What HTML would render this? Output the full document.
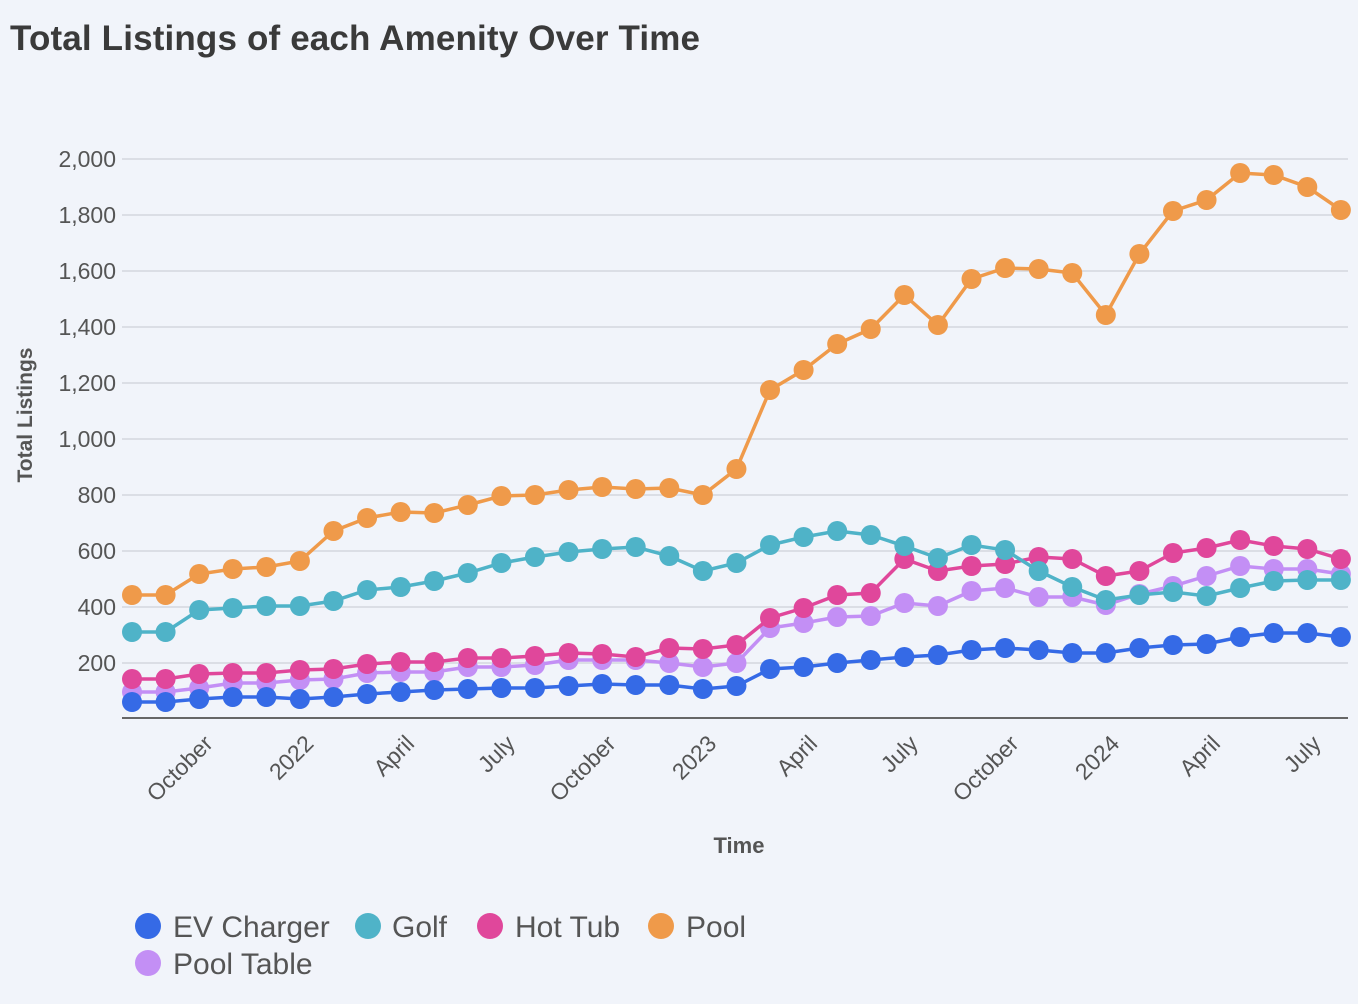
<!DOCTYPE html>
<html><head><meta charset="utf-8"><style>
body{margin:0;background:#f1f4fa;}
svg{display:block;font-family:"Liberation Sans",sans-serif;}
</style></head><body>
<svg id="c" width="1358" height="1004" xmlns="http://www.w3.org/2000/svg">
<rect width="1358" height="1004" fill="#f1f4fa"/>
<text x="10" y="50" font-size="35" font-weight="bold" fill="#3a3a3a" textLength="690">Total Listings of each Amenity Over Time</text>
<g id="grid" stroke="#d4d7de" stroke-width="1.5"></g>
<line x1="122" y1="718" x2="1348" y2="718" stroke="#666" stroke-width="2"/>
<g id="yl" font-size="23" fill="#555" text-anchor="end"></g>
<g id="xl" font-size="23" fill="#555" text-anchor="end"></g>
<text transform="translate(32,415) rotate(-90)" font-size="21" font-weight="bold" fill="#555" text-anchor="middle">Total Listings</text>
<text x="739" y="853" font-size="22" font-weight="bold" fill="#555" text-anchor="middle">Time</text>
<g id="series"></g>
<g font-size="30" fill="#555">
<circle cx="148" cy="926" r="13" fill="#356ae6"/><text x="173" y="937">EV Charger</text>
<circle cx="368" cy="926" r="13" fill="#4fb3c8"/><text x="392" y="937">Golf</text>
<circle cx="490" cy="926" r="13" fill="#e0479b"/><text x="515" y="937">Hot Tub</text>
<circle cx="661" cy="926" r="13" fill="#ef9a4a"/><text x="686" y="937">Pool</text>
<circle cx="148" cy="963" r="13" fill="#c38ff5"/><text x="173" y="974">Pool Table</text>
</g>
</svg>
<script>
var NS="http://www.w3.org/2000/svg";
function el(p,t,a,txt){var e=document.createElementNS(NS,t);for(var k in a)e.setAttribute(k,a[k]);if(txt)e.textContent=txt;document.getElementById(p).appendChild(e);return e;}
for(var v=200;v<=2000;v+=200){var y=719-v*0.28;el("grid","line",{x1:122,y1:y,x2:1348,y2:y});el("yl","text",{x:116,y:y+8},v.toLocaleString("en-US"));}
var xs=[];for(var i=0;i<37;i++)xs.push(132+i*33.58);
var lab=[[2,"October"],[5,"2022"],[8,"April"],[11,"July"],[14,"October"],[17,"2023"],[20,"April"],[23,"July"],[26,"October"],[29,"2024"],[32,"April"],[35,"July"]];
lab.forEach(function(l){var x=xs[l[0]]+15,y=745;el("xl","text",{x:x,y:y,transform:"rotate(-45 "+x+" "+y+")"},l[1]);});
var S=[
["#c38ff5",[692,692,688,683,683,680,679,673,672,672,667,667,665,660,660,660,663,667,663,628,623,617,616,603,606,591,588,597,597,605,594,586,576,566,569,569,574]],
["#356ae6",[702,702,699,697,697,699,697,694,692,690,689,688,688,686,684,685,685,689,686,669,667,663,660,657,655,650,648,650,653,653,648,645,644,637,633,633,637]],
["#e0479b",[679,679,674,673,673,670,669,664,662,662,658,658,656,653,654,657,648,649,645,618,608,595,593,559,571,566,564,557,559,576,571,553,548,540,546,549,559]],
["#4fb3c8",[632,632,610,608,606,606,601,590,587,581,573,563,557,552,549,547,556,571,563,545,537,531,535,546,558,545,550,571,587,600,595,592,596,588,581,580,580]],
["#ef9a4a",[595,595,574,569,567,561,531,518,512,513,505,496,495,490,487,489,488,495,469,390,370,344,329,295,325,279,268,269,273,315,254,211,200,173,175,187,210]]];
S.forEach(function(s){var pts=s[1].map(function(y,i){return xs[i]+","+y}).join(" ");
el("series","polyline",{points:pts,fill:"none",stroke:s[0],"stroke-width":3.5});
s[1].forEach(function(y,i){el("series","circle",{cx:xs[i],cy:y,r:10,fill:s[0]});});});
</script>
</body></html>
